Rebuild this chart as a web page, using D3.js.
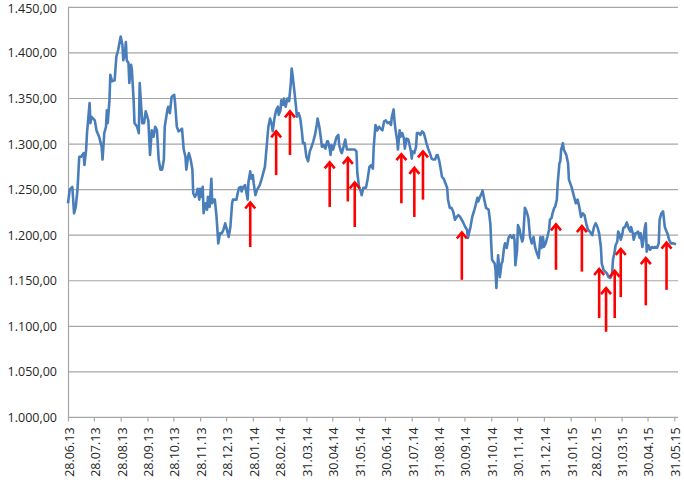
<!DOCTYPE html>
<html>
<head>
<meta charset="utf-8">
<script src="https://cdn.jsdelivr.net/npm/d3@7"></script>
<style>
  html, body { margin: 0; padding: 0; background: #fff; }
  svg { display: block; }
  text { font-family: "Open Sans", "Noto Sans", sans-serif; }
</style>
</head>
<body>
<svg id="chart" width="684" height="483"></svg>
<script>
// ---- data ----
const startDate = "28.06.13";
const endDate = "31.05.15";

const tickLabels = ["28.06.13","28.07.13","28.08.13","28.09.13","28.10.13","28.11.13","28.12.13",
  "28.01.14","28.02.14","31.03.14","30.04.14","31.05.14","30.06.14","31.07.14","31.08.14",
  "30.09.14","31.10.14","30.11.14","31.12.14","31.01.15","28.02.15","31.03.15","30.04.15","31.05.15"];

const yTicks = [1000,1050,1100,1150,1200,1250,1300,1350,1400,1450];

// days since start date
const days = [0,2,5,6,7,9,11,13,15,18,19,21,22,25,26,27,31,33,36,39,40,42,44,45,46,48,49,51,54,56,
58,61,63,64,66,67,68,70,71,73,74,76,77,80,82,83,84,86,88,90,93,95,97,99,101,103,105,107,109,111,
112,115,116,118,120,123,124,126,128,130,132,134,136,137,139,140,142,144,145,147,149,150,152,153,155,156,157,159,161,162,
164,166,167,168,170,172,174,176,178,180,182,184,186,188,190,191,195,196,198,200,201,203,205,208,209,211,212,214,215,217,
219,222,224,226,228,230,232,234,236,237,239,241,243,244,246,247,249,250,252,254,256,258,259,260,262,264,265,267,269,271,
272,274,276,278,280,282,284,286,288,289,291,293,294,296,298,300,301,303,304,305,307,309,311,313,314,316,317,319,321,322,
323,327,330,332,334,335,337,339,340,342,345,347,349,351,353,354,356,358,360,362,364,366,368,370,372,374,375,377,378,379,
381,382,384,385,387,389,390,392,394,395,397,398,399,401,403,404,406,408,410,412,414,415,417,419,421,423,425,427,428,430,
432,433,435,437,439,440,442,444,446,448,450,452,454,457,460,462,463,466,468,470,472,474,475,477,479,480,482,484,487,489,
490,491,494,495,496,497,498,500,502,503,505,506,508,510,512,514,516,517,518,520,521,523,524,526,527,529,531,533,535,537,
539,541,543,545,547,548,550,551,553,555,557,558,560,561,563,564,566,567,569,570,571,573,574,576,577,579,580,583,586,588,
590,592,594,596,598,600,602,605,607,609,611,613,615,617,618,620,622,624,626,628,630,631,633,634,636,637,639,640,642,643,
645,647,649,651,652,654,655,657,658,660,662,663,665,666,668,669,670,672,674,676,678,680,682,684,685,687,689,691,693,694,
696,698,701,704];

const values = [1235,1250,1253,1239,1224,1231,1250,1286,1286,1290,1277,1294,1312,1345,1323,1330,1326,1315,1308,1297,
1283,1312,1319,1337,1323,1348,1376,1369,1370,1396,1403,1418,1409,1392,1400,1412,1392,1389,1367,1387,
1381,1348,1323,1319,1312,1367,1352,1323,1323,1336,1326,1288,1315,1308,1319,1315,1283,1272,1272,1283,
1319,1337,1341,1334,1352,1354,1345,1319,1314,1315,1317,1294,1286,1272,1286,1290,1283,1272,1246,1242,
1246,1251,1239,1251,1242,1253,1224,1235,1228,1242,1231,1262,1235,1239,1239,1220,1191,1202,1202,1206,
1213,1206,1198,1209,1235,1239,1239,1244,1252,1253,1248,1253,1255,1239,1259,1270,1262,1266,1257,1244,
1250,1255,1261,1268,1275,1297,1319,1328,1321,1314,1328,1337,1341,1332,1337,1348,1343,1350,1341,1350,
1347,1367,1383,1376,1359,1341,1330,1334,1328,1312,1301,1301,1286,1281,1292,1297,1303,1310,1321,1328,
1319,1305,1297,1299,1295,1303,1303,1295,1288,1299,1294,1301,1308,1310,1299,1292,1290,1297,1305,1299,
1294,1294,1294,1294,1292,1268,1253,1248,1244,1252,1252,1262,1275,1277,1273,1297,1321,1315,1319,1317,
1315,1325,1326,1323,1324,1321,1330,1338,1326,1317,1305,1294,1315,1308,1312,1306,1295,1306,1305,1301,
1292,1284,1292,1290,1297,1312,1312,1310,1314,1312,1305,1301,1295,1290,1284,1283,1283,1288,1288,1281,
1270,1264,1262,1257,1252,1239,1230,1230,1226,1217,1220,1222,1220,1215,1209,1206,1197,1209,1220,1226,
1233,1241,1237,1242,1246,1249,1239,1230,1228,1213,1191,1173,1169,1162,1142,1162,1178,1154,1169,1171,
1187,1191,1186,1197,1200,1197,1200,1195,1167,1184,1211,1206,1200,1193,1197,1230,1226,1219,1198,1191,
1198,1186,1180,1175,1198,1186,1198,1187,1191,1198,1206,1217,1219,1224,1230,1231,1239,1257,1279,1281,
1294,1301,1294,1290,1288,1279,1261,1253,1242,1235,1239,1231,1220,1224,1222,1213,1206,1203,1200,1209,
1213,1209,1202,1187,1169,1162,1160,1158,1154,1153,1158,1173,1182,1189,1193,1204,1200,1195,1202,1208,
1209,1214,1208,1204,1209,1202,1195,1202,1202,1204,1197,1202,1187,1193,1209,1213,1182,1189,1184,1187,
1186,1187,1186,1191,1217,1224,1226,1209,1204,1202,1195,1191,1191,1190];

// red arrows: day since start, value at arrow tip, value at arrow tail
const arrowDays = [211,241,257,303,324,332,386,401,411,456,565,595,615,623,633,640,669,693];
const arrowTip  = [1237,1315,1337,1281,1286,1259,1290,1275,1293,1204,1213,1211,1164,1143,1162,1186,1176,1193];
const arrowTail = [1187,1266,1288,1231,1237,1209,1235,1220,1239,1151,1162,1160,1109,1094,1109,1132,1123,1140];

// ---- chart ----
const parse = d3.timeParse("%d.%m.%y");
const t0 = parse(startDate), t1 = parse(endDate);
const svg = d3.select("#chart");

const x = d3.scaleTime().domain([t0, t1]).range([68, 674.3]);
const y = d3.scaleLinear().domain([1000, 1450]).range([417.4, 7.4]);
const plotRight = 678;

const locale = d3.formatLocale({decimal: ",", thousands: ".", grouping: [3], currency: ["", "€"]});
const fmt = locale.format(",.2f");

// gridlines
svg.append("g").selectAll("line").data(yTicks.filter(v => v > 1000)).join("line")
  .attr("x1", 68).attr("x2", plotRight)
  .attr("y1", d => y(d)).attr("y2", d => y(d))
  .attr("stroke", "#a6a6a6").attr("stroke-width", 1.2);

// y axis
const yAxis = d3.axisLeft(y).tickValues(yTicks).tickFormat(fmt).tickSize(0).tickPadding(11);
const gy = svg.append("g").attr("transform", "translate(68,0)").call(yAxis);
gy.select(".domain").attr("stroke", "#a6a6a6").attr("stroke-width", 1.2);
gy.selectAll("text").attr("font-size", 12.5).attr("fill", "#262626");
gy.selectAll(".tick").filter(d => d === 1450).select("text").attr("dy", "0.42em");

// x axis
const tickDates = tickLabels.map(parse);
const xAxis = d3.axisBottom(x).tickValues(tickDates).tickFormat(d3.timeFormat("%d.%m.%y")).tickSize(4).tickSizeOuter(0);
const gx = svg.append("g").attr("transform", `translate(0,${y(1000)})`).call(xAxis);
gx.select(".domain").attr("d", `M68,0H${plotRight}`).attr("stroke", "#a6a6a6").attr("stroke-width", 1.2);
gx.selectAll(".tick line").attr("stroke", "#a6a6a6").attr("stroke-width", 1.2);
gx.selectAll("text")
  .attr("font-size", 12.5).attr("fill", "#262626")
  .attr("transform", "rotate(-90)")
  .attr("text-anchor", "end")
  .attr("x", -10).attr("y", 1).attr("dy", "0.35em");

// line
const series = days.map((d, i) => ({date: d3.timeDay.offset(t0, d), value: values[i]}));
const line = d3.line().x(d => x(d.date)).y(d => y(d.value));
svg.append("path").datum(series)
  .attr("d", line)
  .attr("fill", "none")
  .attr("stroke", "#4a7ebb")
  .attr("stroke-width", 2.6)
  .attr("stroke-linejoin", "round");

// arrows
const arrows = arrowDays.map((d, i) => ({date: d3.timeDay.offset(t0, d), tip: arrowTip[i], tail: arrowTail[i]}));
const ga = svg.append("g").attr("stroke", "#ff0000").attr("fill", "none").attr("stroke-width", 2.6);
ga.selectAll("line").data(arrows).join("line")
  .attr("x1", d => x(d.date)).attr("x2", d => x(d.date))
  .attr("y1", d => y(d.tail)).attr("y2", d => y(d.tip) + 1);
ga.selectAll("path").data(arrows).join("path")
  .attr("d", d => {
    const px = x(d.date), py = y(d.tip);
    return `M${px - 5},${py + 7}L${px},${py + 1}L${px + 5},${py + 7}`;
  })
  .attr("stroke-linejoin", "miter");
</script>
</body>
</html>
